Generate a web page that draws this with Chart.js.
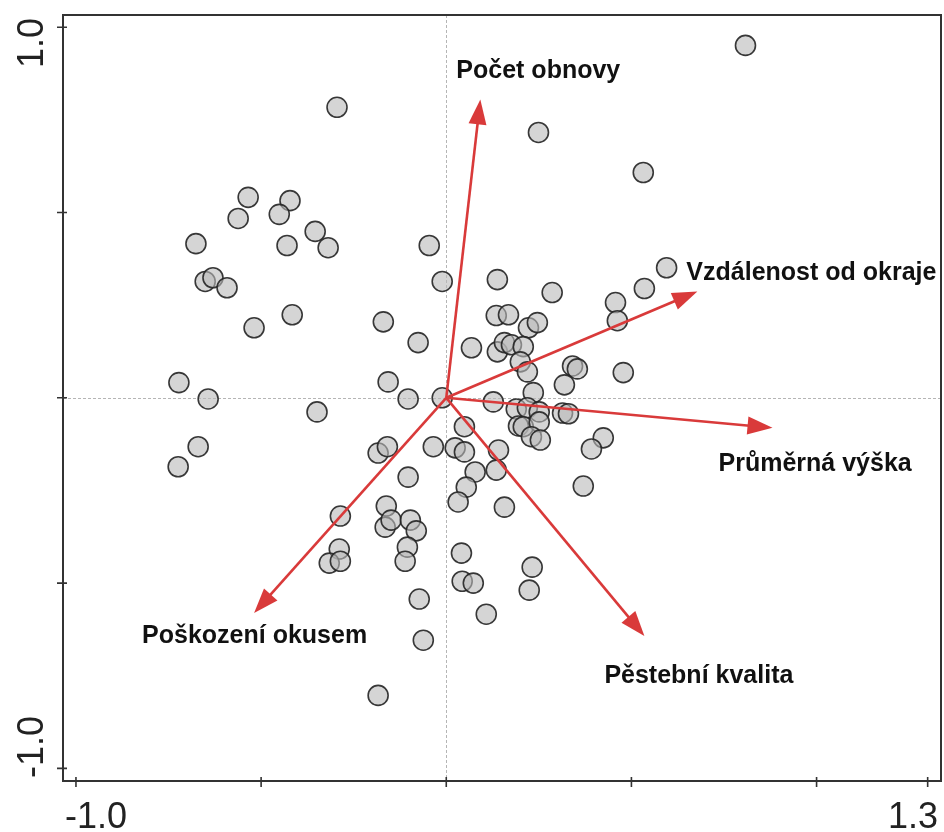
<!DOCTYPE html>
<html>
<head>
<meta charset="utf-8">
<script src="https://cdn.jsdelivr.net/npm/chart.js@4.4.1/dist/chart.umd.min.js"></script>
<style>
  html, body { margin: 0; padding: 0; background: #ffffff; }
  #wrap { width: 944px; height: 832px; position: relative; }
</style>
</head>
<body>
<div id="wrap"><canvas id="c" width="944" height="832"></canvas></div>
<script>
// ---- Data ----
const siteX = [
  -0.295, -0.535, -0.562, -0.422, -0.451, -0.354, -0.319, -0.430, -0.676, -0.651,
  -0.630, -0.592, -0.519, -0.416, -0.046, -0.011, -0.170, -0.076, -0.722, -0.643,
  -0.349, -0.157, -0.103, -0.011, -0.670, -0.724,
   0.808,  0.249,  0.532,  0.595,  0.535,  0.457,  0.462,  0.286,  0.138,  0.135,
   0.168,  0.222,  0.246,  0.068,  0.138,  0.157,  0.176,  0.208,  0.200,  0.219,
   0.341,  0.354,  0.319,  0.478,  0.235,  0.127,  0.189,  0.219,  0.251,  0.314,
   0.330,  0.195,  0.208,  0.251,  0.230,  0.254,  0.424,  0.392,  0.049,  0.024,
   0.049,  0.141,  0.078,  0.135,  0.054,  0.032,  0.157,  0.370,  0.041,  0.043,
   0.073,  0.232,  0.224,  0.108,
  -0.184, -0.159, -0.035, -0.103, -0.286, -0.162, -0.165, -0.149, -0.097, -0.081,
  -0.105, -0.111, -0.289, -0.316, -0.286, -0.073, -0.062, -0.184
];
const siteY = [
   0.784,  0.541,  0.484,  0.532,  0.495,  0.449,  0.405,  0.411,  0.416,  0.314,
   0.324,  0.297,  0.189,  0.224,  0.411,  0.314,  0.205,  0.149,  0.041, -0.003,
  -0.038,  0.043, -0.003,  0.000, -0.132, -0.186,
   0.951,  0.716,  0.608,  0.351,  0.295,  0.257,  0.208,  0.284,  0.319,  0.222,
   0.224,  0.189,  0.203,  0.135,  0.124,  0.149,  0.143,  0.138,  0.097,  0.070,
   0.086,  0.078,  0.035,  0.068,  0.014, -0.011, -0.030, -0.027, -0.038, -0.041,
  -0.043, -0.076, -0.078, -0.065, -0.105, -0.114, -0.108, -0.138, -0.078, -0.135,
  -0.146, -0.141, -0.200, -0.195, -0.241, -0.281, -0.295, -0.238, -0.419, -0.495,
  -0.500, -0.457, -0.519, -0.584,
  -0.149, -0.132, -0.132, -0.214, -0.319, -0.292, -0.349, -0.330, -0.330, -0.359,
  -0.403, -0.441, -0.408, -0.446, -0.441, -0.543, -0.654, -0.803
];
const arrowLabels = ["Počet obnovy", "Vzdálenost od okraje", "Průměrná výška", "Pěstební kvalita", "Poškození okusem"];
const arrowX = [0.092, 0.678, 0.881, 0.535, -0.519];
const arrowY = [0.805, 0.287, -0.081, -0.643, -0.581];
const xTickValues = [-1.0, -0.5, 0, 0.5, 1.0, 1.3];
const xTickLabels = ["-1.0", "", "", "", "", "1.3"];
const yTickValues = [-1.0, -0.5, 0, 0.5, 1.0];
const yTickLabels = ["-1.0", "", "", "", "1.0"];

// ---- Styling (not data) ----
const labelOffsets = [[-24, -21], [-11, -11], [-54, 43], [-40, 47], [-112, 30]];
const ARROW_COLOR = '#d93a3a';

const ordPlugin = {
  id: 'ordination',
  beforeDatasetsDraw(chart) {
    const ctx = chart.ctx, a = chart.chartArea;
    const xs = chart.scales.x, ys = chart.scales.y;
    ctx.save();
    ctx.strokeStyle = '#b5b5b5';
    ctx.lineWidth = 1;
    ctx.setLineDash([3, 2]);
    const x0 = Math.round(xs.getPixelForValue(0)) + 0.5;
    const y0 = Math.round(ys.getPixelForValue(0)) + 0.5;
    ctx.beginPath();
    ctx.moveTo(x0, a.top); ctx.lineTo(x0, a.bottom);
    ctx.moveTo(a.left, y0); ctx.lineTo(a.right, y0);
    ctx.stroke();
    ctx.restore();
  },
  afterDatasetsDraw(chart) {
    const ctx = chart.ctx, a = chart.chartArea;
    const xs = chart.scales.x, ys = chart.scales.y;
    const ox = xs.getPixelForValue(0), oy = ys.getPixelForValue(0);
    ctx.save();
    for (let i = 0; i < arrowX.length; i++) {
      const tx = xs.getPixelForValue(arrowX[i]);
      const ty = ys.getPixelForValue(arrowY[i]);
      const ang = Math.atan2(ty - oy, tx - ox);
      const hl = 25, hw = 9;
      const bx = tx - hl * Math.cos(ang), by = ty - hl * Math.sin(ang);
      ctx.strokeStyle = ARROW_COLOR;
      ctx.lineWidth = 2.6;
      ctx.beginPath();
      ctx.moveTo(ox, oy);
      ctx.lineTo(bx + 2 * Math.cos(ang), by + 2 * Math.sin(ang));
      ctx.stroke();
      ctx.fillStyle = ARROW_COLOR;
      ctx.beginPath();
      ctx.moveTo(tx, ty);
      ctx.lineTo(bx + hw * Math.sin(ang), by - hw * Math.cos(ang));
      ctx.lineTo(bx - hw * Math.sin(ang), by + hw * Math.cos(ang));
      ctx.closePath();
      ctx.fill();
      ctx.fillStyle = '#111111';
      ctx.font = "bold 25px 'Liberation Sans', Arial, sans-serif";
      ctx.textAlign = 'left';
      ctx.textBaseline = 'alphabetic';
      ctx.fillText(arrowLabels[i], tx + labelOffsets[i][0], ty + labelOffsets[i][1]);
    }
    // frame
    ctx.strokeStyle = '#333333';
    ctx.lineWidth = 2;
    ctx.strokeRect(a.left, a.top, a.right - a.left, a.bottom - a.top);
    // ticks
    ctx.lineWidth = 1.6;
    ctx.beginPath();
    xTickValues.forEach(v => {
      const px = xs.getPixelForValue(v);
      ctx.moveTo(px, a.bottom - 4); ctx.lineTo(px, a.bottom + 6);
    });
    yTickValues.forEach(v => {
      const py = ys.getPixelForValue(v);
      ctx.moveTo(a.left - 6, py); ctx.lineTo(a.left + 4, py);
    });
    ctx.stroke();
    // tick labels
    ctx.fillStyle = '#222222';
    ctx.font = "36px 'Liberation Sans', Arial, sans-serif";
    ctx.textBaseline = 'alphabetic';
    xTickLabels.forEach((t, i) => {
      if (!t) return;
      const first = i === 0;
      ctx.textAlign = first ? 'left' : 'right';
      ctx.fillText(t, first ? a.left + 2 : a.right - 3, a.bottom + 47);
    });
    yTickLabels.forEach((t, i) => {
      if (!t) return;
      const first = i === 0;
      ctx.save();
      ctx.translate(a.left - 20, first ? a.bottom - 3 : a.top + 3);
      ctx.rotate(-Math.PI / 2);
      ctx.textAlign = first ? 'left' : 'right';
      ctx.fillText(t, 0, 0);
      ctx.restore();
    });
    ctx.restore();
  }
};

const points = siteX.map((x, i) => ({ x: x, y: siteY[i] }));

new Chart(document.getElementById('c'), {
  type: 'scatter',
  data: {
    datasets: [{
      data: points,
      pointRadius: 10,
      pointBackgroundColor: 'rgba(185,185,185,0.6)',
      pointBorderColor: 'rgba(35,35,35,0.9)',
      pointBorderWidth: 1.6,
      pointHoverRadius: 10,
      clip: false
    }]
  },
  options: {
    responsive: false,
    animation: false,
    events: [],
    layout: { autoPadding: false, padding: { left: 63, top: 15, right: 3, bottom: 51 } },
    plugins: { legend: { display: false }, tooltip: { enabled: false } },
    scales: {
      x: { type: 'linear', min: -1.035, max: 1.336, display: false },
      y: { type: 'linear', min: -1.034, max: 1.033, display: false }
    }
  },
  plugins: [ordPlugin]
});
</script>
</body>
</html>
